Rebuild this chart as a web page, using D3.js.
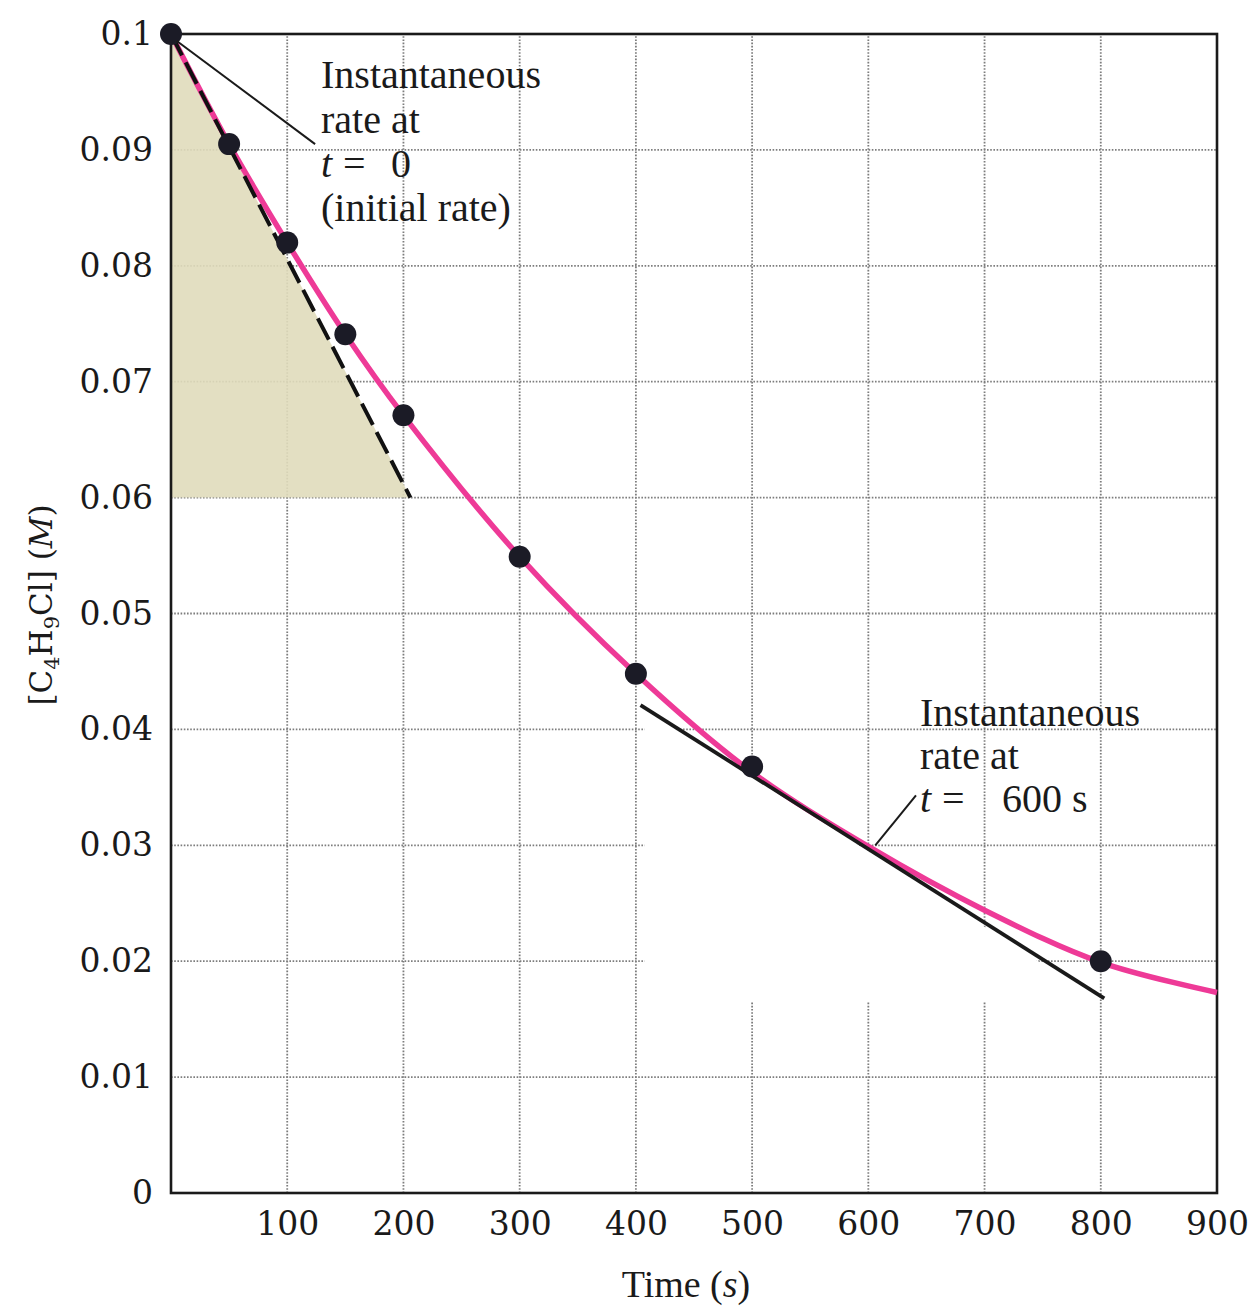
<!DOCTYPE html>
<html>
<head>
<meta charset="utf-8">
<script src="https://cdn.jsdelivr.net/npm/d3@7"></script>
<style>
  html, body { margin: 0; padding: 0; background: #ffffff; }
  svg { display: block; }
</style>
</head>
<body>
<svg id="chart" width="1257" height="1308"></svg>
<script>
// Measured concentration of C4H9Cl over time
const times = [0, 50, 100, 150, 200, 300, 400, 500, 800];
const conc  = [0.1000, 0.0905, 0.0820, 0.0741, 0.0671, 0.0549, 0.0448, 0.0368, 0.0200];

// Smooth decay curve traced through the measurements
const curveTimes = [0, 50, 100, 150, 200, 300, 400, 500, 600, 700, 800, 900];
const curveConc  = [0.1000, 0.0905, 0.0820, 0.0741, 0.0671, 0.0549, 0.0448, 0.0363, 0.0299, 0.0244, 0.0199, 0.0173];

// Tangent lines (end points, time in s and concentration in M)
const initialTangent = [[0, 0.1000], [206, 0.0600]];
const tangentAt600   = [[404, 0.0421], [803, 0.0168]];

// Axis ticks
const xTicks = [100, 200, 300, 400, 500, 600, 700, 800, 900];
const yTicks = [0, 0.01, 0.02, 0.03, 0.04, 0.05, 0.06, 0.07, 0.08, 0.09, 0.1];
const yTickLabels = ["0", "0.01", "0.02", "0.03", "0.04", "0.05", "0.06", "0.07", "0.08", "0.09", "0.1"];
const gridX = [100, 200, 300, 400, 500, 600, 700, 800];
const gridY = [0.01, 0.02, 0.03, 0.04, 0.05, 0.06, 0.07, 0.08, 0.09];

const svg = d3.select("#chart");
const x = d3.scaleLinear().domain([0, 900]).range([171, 1217]);
const y = d3.scaleLinear().domain([0, 0.1]).range([1193, 34]);

const tickFont = "'DejaVu Serif', serif";
const noteFont = "'Liberation Serif', 'Times New Roman', serif";

// Grid
const grid = svg.append("g").attr("class", "grid");
grid.selectAll("line.gx").data(gridX).join("line")
  .attr("x1", d => x(d)).attr("x2", d => x(d))
  .attr("y1", y(0)).attr("y2", y(0.1))
  .attr("stroke", "#7d7d7d").attr("stroke-width", 1.8).attr("stroke-dasharray", "1.6,1.6");
grid.selectAll("line.gy").data(gridY).join("line")
  .attr("x1", x(0)).attr("x2", x(900))
  .attr("y1", d => y(d)).attr("y2", d => y(d))
  .attr("stroke", "#7d7d7d").attr("stroke-width", 1.8).attr("stroke-dasharray", "1.6,1.6");

// Cleared area beneath the t = 600 s tangent
svg.append("path")
  .attr("d", d3.line()([
    [x(tangentAt600[0][0]) + 4, y(tangentAt600[0][1]) + 2],
    [x(tangentAt600[1][0]) - 6, y(tangentAt600[1][1]) + 2],
    [x(tangentAt600[1][0]) - 6, y(0.0165)],
    [x(tangentAt600[0][0]) + 4, y(0.0165)]
  ]) + "Z")
  .attr("fill", "#ffffff");

// Shaded triangle under the initial tangent
svg.append("path")
  .attr("d", d3.line()([
    [x(initialTangent[0][0]), y(initialTangent[0][1])],
    [x(initialTangent[1][0]), y(initialTangent[1][1])],
    [x(0), y(initialTangent[1][1])]
  ]) + "Z")
  .attr("fill", "#e0dbbb").attr("fill-opacity", 0.9);

// Frame
svg.append("rect")
  .attr("x", x(0)).attr("y", y(0.1))
  .attr("width", x(900) - x(0)).attr("height", y(0) - y(0.1))
  .attr("fill", "none").attr("stroke", "#1a1a1a").attr("stroke-width", 2.6);

// Axes (labels only)
const xAxis = svg.append("g")
  .attr("transform", `translate(0,${y(0)})`)
  .call(d3.axisBottom(x).tickValues(xTicks).tickSize(0).tickPadding(19).tickFormat(d3.format("d")));
xAxis.select(".domain").remove();
xAxis.selectAll("text")
  .attr("font-family", tickFont).attr("font-size", 33).attr("fill", "#1a1a1a");

const yAxis = svg.append("g")
  .attr("transform", `translate(${x(0)},0)`)
  .call(d3.axisLeft(y).tickValues(yTicks).tickSize(0).tickPadding(18)
    .tickFormat((d, i) => yTickLabels[i]));
yAxis.select(".domain").remove();
yAxis.selectAll("text")
  .attr("font-family", tickFont).attr("font-size", 33).attr("fill", "#1a1a1a");

// Axis titles
svg.append("text")
  .attr("x", 686).attr("y", 1297)
  .attr("text-anchor", "middle")
  .attr("font-family", noteFont).attr("font-size", 38).attr("fill", "#1a1a1a")
  .call(t => {
    t.append("tspan").text("Time (");
    t.append("tspan").attr("font-style", "italic").text("s");
    t.append("tspan").text(")");
  });

const yTitle = svg.append("text")
  .attr("transform", `translate(52,${605}) rotate(-90)`)
  .attr("text-anchor", "middle")
  .attr("font-family", tickFont).attr("font-size", 31).attr("fill", "#1a1a1a");
yTitle.append("tspan").text("[C");
yTitle.append("tspan").attr("font-size", 21).attr("dy", 7).text("4");
yTitle.append("tspan").attr("dy", -7).text("H");
yTitle.append("tspan").attr("font-size", 21).attr("dy", 7).text("9");
yTitle.append("tspan").attr("dy", -7).text("Cl] (");
yTitle.append("tspan").attr("font-style", "italic").text("M");
yTitle.append("tspan").text(")");

// Decay curve
svg.append("path")
  .datum(curveTimes.map((t, i) => [t, curveConc[i]]))
  .attr("d", d3.line().x(d => x(d[0])).y(d => y(d[1])).curve(d3.curveCatmullRom.alpha(0.5)))
  .attr("fill", "none").attr("stroke", "#ee3a97").attr("stroke-width", 5.5);

// Initial-rate tangent (dashed)
svg.append("line")
  .attr("x1", x(initialTangent[0][0])).attr("y1", y(initialTangent[0][1]))
  .attr("x2", x(initialTangent[1][0])).attr("y2", y(initialTangent[1][1]))
  .attr("stroke", "#111").attr("stroke-width", 4).attr("stroke-dasharray", "24,8");

// Tangent at t = 600 s
svg.append("line")
  .attr("x1", x(tangentAt600[0][0])).attr("y1", y(tangentAt600[0][1]))
  .attr("x2", x(tangentAt600[1][0])).attr("y2", y(tangentAt600[1][1]))
  .attr("stroke", "#1a1a1a").attr("stroke-width", 3.8);

// Measured points
svg.append("g").selectAll("circle")
  .data(times.map((t, i) => [t, conc[i]]))
  .join("circle")
  .attr("cx", d => x(d[0])).attr("cy", d => y(d[1]))
  .attr("r", 11).attr("fill", "#1b1b26");

// Annotations
function note(xp, baselines, lines) {
  const g = svg.append("g")
    .attr("font-family", noteFont).attr("font-size", 40).attr("fill", "#1a1a1a");
  lines.forEach((parts, i) => {
    const t = g.append("text").attr("y", baselines[i]);
    parts.forEach(p => {
      const s = t.append("tspan").attr("x", xp + (p.dx || 0)).text(p.text);
      if (p.italic) s.attr("font-style", "italic");
    });
  });
}

note(321, [88, 133, 177, 221], [
  [{ text: "Instantaneous" }],
  [{ text: "rate  at" }],
  [{ text: "t", italic: true }, { text: "=", dx: 22 }, { text: "0", dx: 70 }],
  [{ text: "(initial  rate)" }]
]);
svg.append("line")
  .attr("x1", x(5)).attr("y1", y(0.0994))
  .attr("x2", x(124)).attr("y2", y(0.0905))
  .attr("stroke", "#1a1a1a").attr("stroke-width", 2);

note(920, [726, 769, 812], [
  [{ text: "Instantaneous" }],
  [{ text: "rate  at" }],
  [{ text: "t", italic: true }, { text: "=", dx: 22 }, { text: "600", dx: 82 }, { text: "s", dx: 152 }]
]);
svg.append("line")
  .attr("x1", x(606)).attr("y1", y(0.0300))
  .attr("x2", x(641)).attr("y2", y(0.0343))
  .attr("stroke", "#1a1a1a").attr("stroke-width", 2);
</script>
</body>
</html>
